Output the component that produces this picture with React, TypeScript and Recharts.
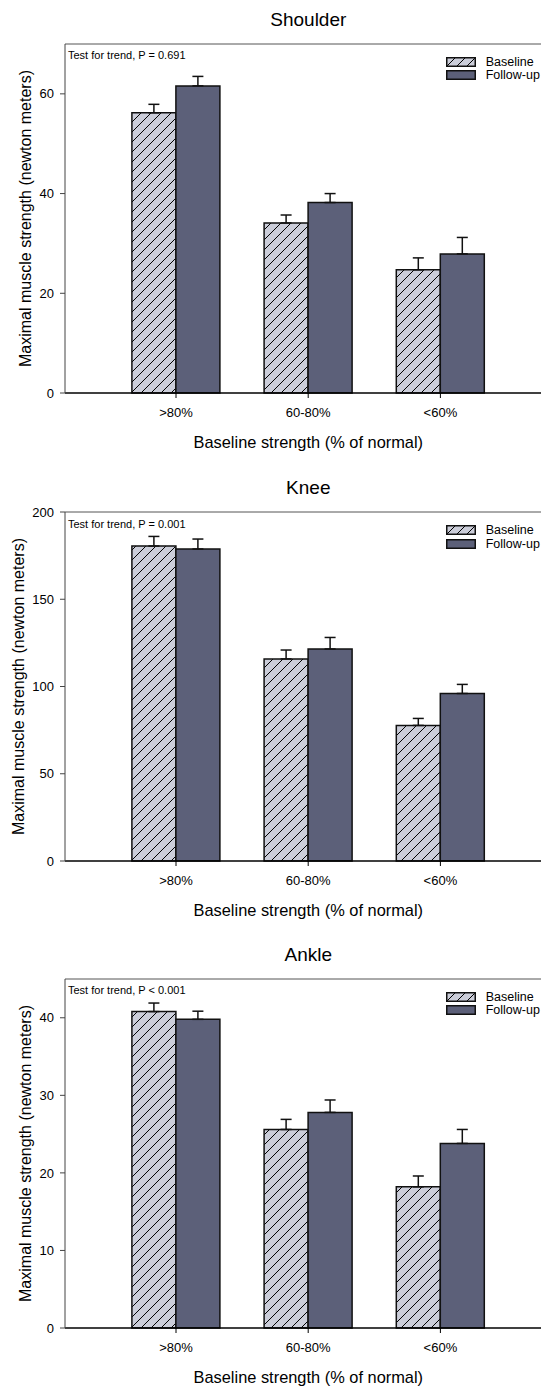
import React from "react";
import { BarChart, Bar, XAxis, YAxis, ErrorBar, ReferenceLine, Label } from "recharts";

// Group labels shared by all three panels
const categories = [">80%", "60-80%", "<60%"];

// Shoulder (newton meters), mean and upper SE
const shoulderBaseline = [56.2, 34.1, 24.7];
const shoulderBaselineSe = [1.7, 1.6, 2.4];
const shoulderFollowUp = [61.6, 38.2, 27.9];
const shoulderFollowUpSe = [1.9, 1.8, 3.3];
const shoulderTicks = [0, 20, 40, 60];

// Knee
const kneeBaseline = [180.5, 115.8, 77.7];
const kneeBaselineSe = [5.5, 5.1, 4.0];
const kneeFollowUp = [178.8, 121.5, 96.0];
const kneeFollowUpSe = [5.7, 6.6, 5.2];
const kneeTicks = [0, 50, 100, 150, 200];

// Ankle
const ankleBaseline = [40.8, 25.6, 18.2];
const ankleBaselineSe = [1.1, 1.3, 1.4];
const ankleFollowUp = [39.8, 27.8, 23.8];
const ankleFollowUpSe = [1.05, 1.6, 1.8];
const ankleTicks = [0, 10, 20, 30, 40];

const FONT = "'Liberation Sans', Arial, Helvetica, sans-serif";
const BASE_FILL = "#cbcdd9";
const FOLLOW_FILL = "#5c6079";
const EDGE = "#111";

// chart geometry: plot spans x 65..620 inside a 640px svg, the page clips the right part
const CHART_W = 640;
const CHART_H = 429;
const PLOT_LEFT = 65;
const PLOT_PAD_TOP = 10;
const PLOT_H = 349;
const GROUP_CENTER_X = 308.3;

interface PanelProps {
  id: string;
  title: string;
  trend: string;
  baseline: number[];
  baselineSe: number[];
  followUp: number[];
  followUpSe: number[];
  yMax: number;
  yTicks: number[];
  top: number; // page y of the plot's top edge
  yLabelX: number;
}

function HatchSwatch({ id }: { id: string }) {
  return (
    <svg width={30} height={10} style={{ display: "block" }}>
      <defs>
        <pattern id={id} patternUnits="userSpaceOnUse" width={10} height={10}>
          <rect width={10} height={10} fill={BASE_FILL} />
          <path d="M0,10 L10,0 M-2.5,2.5 L2.5,-2.5 M7.5,12.5 L12.5,7.5" stroke="#000" strokeWidth={1} />
        </pattern>
      </defs>
      <rect x={0.75} y={0.75} width={28.5} height={8.5} fill={`url(#${id})`} stroke={EDGE} strokeWidth={1.5} />
    </svg>
  );
}

function StrengthPanel(p: PanelProps) {
  const rows = categories.map((cat, i) => ({
    cat,
    baseline: p.baseline[i],
    baselineErr: [0, p.baselineSe[i]],
    followUp: p.followUp[i],
    followUpErr: [0, p.followUpSe[i]],
  }));
  const hatchId = `${p.id}-hatch`;
  const plotBottom = PLOT_PAD_TOP + PLOT_H;

  return (
    <>
      <div
        style={{
          position: "absolute",
          left: GROUP_CENTER_X - 150,
          width: 300,
          top: p.top - 34,
          height: 20,
          lineHeight: "20px",
          fontSize: 19,
          textAlign: "center",
        }}
      >
        {p.title}
      </div>
      <div style={{ position: "absolute", left: 0, top: p.top - PLOT_PAD_TOP }}>
        <BarChart
          width={CHART_W}
          height={CHART_H}
          data={rows}
          margin={{ top: PLOT_PAD_TOP, right: 20, bottom: 0, left: 0 }}
          barGap={0}
          barSize={44}
        >
          <defs>
            <pattern id={hatchId} patternUnits="userSpaceOnUse" width={10} height={10}>
              <rect width={10} height={10} fill={BASE_FILL} />
              <path d="M0,10 L10,0 M-2.5,2.5 L2.5,-2.5 M7.5,12.5 L12.5,7.5" stroke="#000" strokeWidth={1} />
            </pattern>
          </defs>
          <XAxis
            dataKey="cat"
            interval={0}
            height={70}
            padding={{ left: 44.9, right: 113.5 }}
            tickSize={5}
            tickMargin={10}
            axisLine={{ stroke: "#000", strokeWidth: 1.5 }}
            tickLine={{ stroke: "#000" }}
            tick={{ fontSize: 13, fill: "#000" }}
          >
            <Label
              content={() => (
                <text x={GROUP_CENTER_X} y={plotBottom + 54.8} textAnchor="middle" fontSize={16.4} fill="#000">
                  Baseline strength (% of normal)
                </text>
              )}
            />
          </XAxis>
          <YAxis
            type="number"
            domain={[0, p.yMax]}
            ticks={p.yTicks}
            width={PLOT_LEFT}
            tickSize={5}
            tickMargin={6}
            axisLine={{ stroke: "#444" }}
            tickLine={{ stroke: "#444" }}
            tick={{ fontSize: 13, fill: "#000" }}
          >
            <Label
              value="Maximal muscle strength (newton meters)"
              angle={-90}
              position="insideLeft"
              offset={p.yLabelX}
              style={{ textAnchor: "middle", fontSize: 16, fill: "#000" }}
            />
          </YAxis>
          <ReferenceLine y={p.yMax} stroke="#555" strokeWidth={1} />
          <Bar dataKey="baseline" fill={`url(#${hatchId})`} stroke={EDGE} strokeWidth={1.5} isAnimationActive={false}>
            <ErrorBar dataKey="baselineErr" direction="y" width={5.5} stroke={EDGE} strokeWidth={1.5} isAnimationActive={false} />
          </Bar>
          <Bar dataKey="followUp" fill={FOLLOW_FILL} stroke={EDGE} strokeWidth={1.5} isAnimationActive={false}>
            <ErrorBar dataKey="followUpErr" direction="y" width={5.5} stroke={EDGE} strokeWidth={1.5} isAnimationActive={false} />
          </Bar>
        </BarChart>
      </div>
      <div
        style={{
          position: "absolute",
          left: 68,
          top: p.top + 5.5,
          fontSize: 11,
          lineHeight: "12px",
          whiteSpace: "nowrap",
        }}
      >
        {p.trend}
      </div>
      <div style={{ position: "absolute", left: 445.7, top: p.top + 13, fontSize: 12.5, whiteSpace: "nowrap" }}>
        <div style={{ display: "flex", alignItems: "center", height: 10, marginBottom: 3.5 }}>
          <HatchSwatch id={`${p.id}-legend-hatch`} />
          <span style={{ marginLeft: 10, lineHeight: "14px" }}>Baseline</span>
        </div>
        <div style={{ display: "flex", alignItems: "center", height: 10 }}>
          <svg width={30} height={10} style={{ display: "block" }}>
            <rect x={0.75} y={0.75} width={28.5} height={8.5} fill={FOLLOW_FILL} stroke={EDGE} strokeWidth={1.5} />
          </svg>
          <span style={{ marginLeft: 10, lineHeight: "14px" }}>Follow-up</span>
        </div>
      </div>
    </>
  );
}

export default function App() {
  return (
    <div
      style={{
        position: "absolute",
        left: 0,
        top: 0,
        width: 541,
        height: 1386,
        overflow: "hidden",
        background: "#fff",
        fontFamily: FONT,
        color: "#000",
      }}
    >
      <StrengthPanel
        id="shoulder"
        title="Shoulder"
        trend="Test for trend, P = 0.691"
        baseline={shoulderBaseline}
        baselineSe={shoulderBaselineSe}
        followUp={shoulderFollowUp}
        followUpSe={shoulderFollowUpSe}
        yMax={70}
        yTicks={shoulderTicks}
        top={43.7}
        yLabelX={25}
      />
      <StrengthPanel
        id="knee"
        title="Knee"
        trend="Test for trend, P = 0.001"
        baseline={kneeBaseline}
        baselineSe={kneeBaselineSe}
        followUp={kneeFollowUp}
        followUpSe={kneeFollowUpSe}
        yMax={200}
        yTicks={kneeTicks}
        top={512.3}
        yLabelX={18.8}
      />
      <StrengthPanel
        id="ankle"
        title="Ankle"
        trend="Test for trend, P < 0.001"
        baseline={ankleBaseline}
        baselineSe={ankleBaselineSe}
        followUp={ankleFollowUp}
        followUpSe={ankleFollowUpSe}
        yMax={45}
        yTicks={ankleTicks}
        top={978.7}
        yLabelX={25.7}
      />
    </div>
  );
}
